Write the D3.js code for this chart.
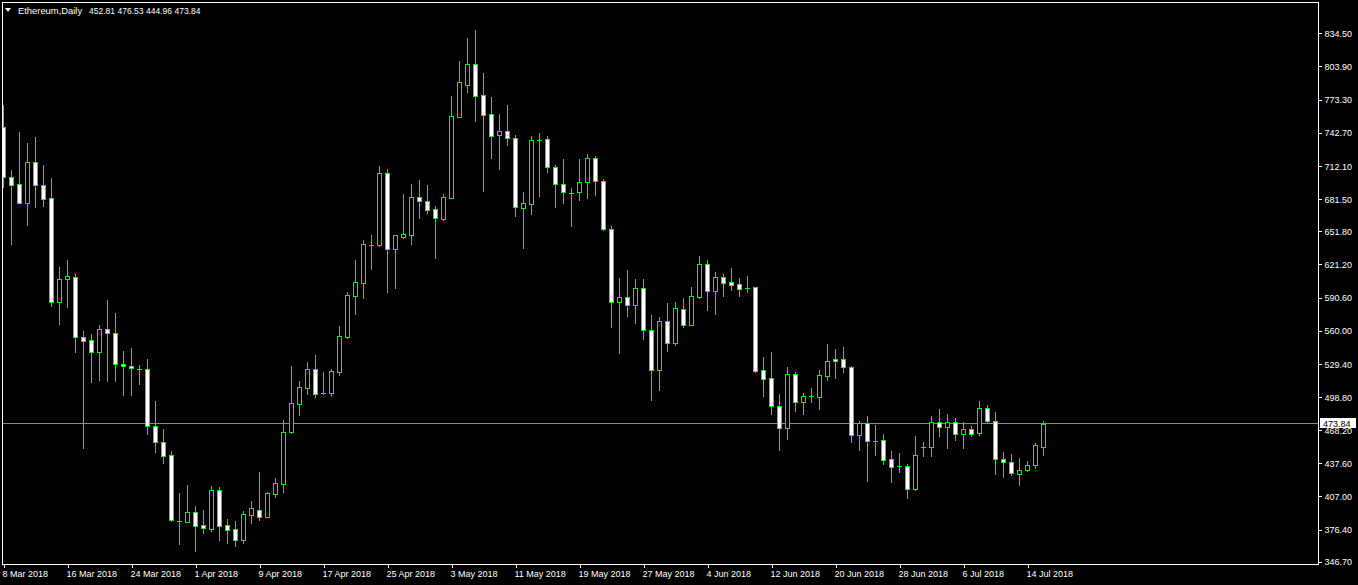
<!DOCTYPE html>
<html><head><meta charset="utf-8">
<script src="https://cdn.jsdelivr.net/npm/d3@7"></script>
<style>html,body{margin:0;padding:0;background:#000;}svg{display:block;}</style>
</head><body>
<script>
// ---- data (Ethereum daily, 8 Mar 2018 .. 16 Jul 2018) ----
const startDay = "2018-03-08";
const openVals = [747.7,701.6,695.1,678.1,715.4,694.2,682.2,586.7,607.4,609.2,553.9,551.1,540.0,561.2,557.5,528.9,527.1,525.0,524.3,472.2,457.5,444.9,384.6,383.6,392.3,380.3,377.1,412.6,380.3,376.6,367.0,390.1,394.1,388.2,409.5,418.7,466.2,492.5,507.3,524.3,502.4,502.7,522.1,554.4,592.2,604.3,639.3,638.8,705.3,635.6,646.7,648.6,683.1,679.4,672.0,663.3,682.7,757.5,787.0,805.9,777.3,759.7,740.3,744.0,737.6,672.9,676.6,736.3,736.6,710.8,695.1,687.3,687.7,696.9,719.1,697.9,653.6,586.2,590.8,583.4,599.1,560.3,523.9,568.6,548.9,579.7,565.5,591.1,621.2,596.9,609.2,604.6,602.8,599.4,600.0,523.4,516.0,490.1,470.4,519.7,494.4,499.4,499.0,518.4,533.5,533.5,526.2,463.4,474.5,458.4,458.8,441.2,434.8,434.8,413.5,452.3,452.3,475.4,470.8,475.4,464.3,468.9,465.2,488.3,476.3,441.2,438.5,427.4,431.1,435.7,452.81];
const highVals = [768.3,708.3,743.4,733.2,738.8,712.9,700.9,618.8,625.2,612.3,559.7,556.6,564.9,588.3,576.0,541.2,544.0,528.0,534.1,494.8,469.2,448.9,410.1,417.5,398.1,394.4,416.6,415.6,386.1,384.3,393.5,402.7,429.5,410.9,424.0,477.5,527.4,513.5,531.0,537.5,521.5,524.6,564.3,595.4,625.2,643.7,648.3,712.0,709.2,648.0,686.1,695.4,699.1,694.5,675.1,686.1,776.6,808.9,830.2,837.5,797.8,775.7,760.0,768.3,740.6,688.0,739.7,742.5,739.7,712.6,718.5,691.4,718.5,722.8,720.9,699.7,656.3,608.6,616.0,607.7,607.7,574.4,572.3,585.5,586.4,590.1,600.3,628.9,625.2,614.1,612.6,618.0,608.6,610.4,600.0,535.7,540.3,501.5,526.4,521.8,502.4,507.0,523.7,547.7,543.0,544.9,527.4,476.6,481.2,472.9,464.6,448.9,447.0,436.6,462.7,457.2,481.2,487.4,483.0,479.3,475.4,471.7,494.8,491.4,484.9,448.0,446.1,442.4,439.6,455.9,476.53];
const lowVals = [692.9,640.0,677.5,657.8,674.4,675.3,583.0,566.4,582.1,540.6,451.4,512.9,514.7,513.8,513.8,500.9,500.9,511.0,464.9,448.2,438.1,384.5,363.0,383.3,356.8,373.5,375.0,366.7,363.9,361.5,364.2,382.7,385.2,388.0,406.7,410.9,465.8,482.4,501.8,499.0,501.2,500.9,519.3,553.5,575.6,590.4,617.2,638.3,595.9,599.6,645.8,640.3,664.3,668.6,627.3,662.1,682.3,757.0,780.6,753.8,689.2,719.7,709.5,731.7,666.1,636.6,668.0,684.6,706.7,674.4,678.1,656.9,680.9,682.7,685.5,653.0,563.6,539.6,573.8,567.3,552.6,496.2,505.5,541.5,547.0,563.6,565.0,590.4,579.3,575.6,592.2,597.8,592.2,596.0,522.1,499.9,483.3,450.1,460.0,486.1,483.3,494.4,487.9,514.7,516.5,521.5,457.5,450.1,421.5,445.5,437.2,420.5,429.8,405.8,413.0,444.5,444.5,463.0,452.0,459.3,452.0,462.5,463.4,474.5,427.4,425.2,426.5,417.8,430.1,432.9,444.96];
const closeVals = [701.6,694.2,678.1,715.4,694.2,681.8,586.7,607.4,610.2,553.9,550.2,540.0,561.2,557.5,528.9,527.1,525.2,525.0,472.2,457.5,444.5,384.9,384.6,392.3,379.9,377.5,412.6,379.9,376.2,367.0,390.7,396.0,388.2,409.8,419.1,466.2,492.9,507.7,524.3,501.8,502.4,522.5,554.8,592.6,604.6,639.7,639.3,705.3,635.6,648.0,648.9,683.1,679.4,671.7,663.7,683.1,757.9,789.3,805.9,776.9,759.4,740.0,744.0,737.6,673.9,677.6,735.7,736.3,710.8,695.1,687.7,687.3,696.9,719.1,697.9,653.6,586.2,590.8,583.4,599.1,560.3,523.9,568.6,548.9,580.6,565.5,591.7,621.2,596.9,609.2,604.3,602.4,598.7,599.4,523.0,515.6,490.7,470.4,519.7,494.4,499.4,499.4,518.8,531.7,531.7,526.2,463.4,474.5,457.8,458.4,440.9,434.4,434.8,413.5,444.9,452.3,475.4,470.8,475.4,464.3,468.9,464.3,488.3,476.3,441.2,438.5,428.3,431.1,435.7,454.1,473.84];
const yTickVals = [834.50,803.90,773.30,742.70,712.10,681.50,651.80,621.20,590.60,560.00,529.40,498.80,468.20,437.60,407.00,376.40,346.70];
const xTickLabels = ["8 Mar 2018","16 Mar 2018","24 Mar 2018","1 Apr 2018","9 Apr 2018","17 Apr 2018","25 Apr 2018","3 May 2018","11 May 2018","19 May 2018","27 May 2018","4 Jun 2018","12 Jun 2018","20 Jun 2018","28 Jun 2018","6 Jul 2018","14 Jul 2018"];
const titleText = "Ethereum,Daily";
const lastPrice = 473.84;

(function () {
const W = 1358, H = 585;
const GREEN = "#00ff00";
const FONT = "'Liberation Sans', Arial, sans-serif";
const start = d3.utcParse("%Y-%m-%d")(startDay);
const candles = openVals.map((o, i) => ({
  date: d3.utcDay.offset(start, i), o, h: highVals[i], l: lowVals[i], c: closeVals[i]
}));

const pL = 2, pR = 1318, pT = 2, pB = 564;

const x = d3.scaleUtc()
  .domain([candles[0].date, candles[candles.length - 1].date])
  .range([3, 3 + 8 * (candles.length - 1)]);
const y = d3.scaleLinear().domain([346.7, 834.5]).range([561.7, 33.3]);

const svg = d3.select("body").append("svg")
  .attr("width", W).attr("height", H)
  .style("background", "#000")
  .style("font-family", FONT);

svg.append("defs").append("clipPath").attr("id", "plot")
  .append("rect").attr("x", pL + 1).attr("y", pT + 1)
  .attr("width", pR - pL - 1).attr("height", pB - pT - 1);

const plot = svg.append("g").attr("clip-path", "url(#plot)")
  .attr("shape-rendering", "crispEdges");

// price line
const py = Math.round(y(lastPrice)) - 0.5;
plot.append("line").attr("x1", pL).attr("x2", pR)
  .attr("y1", py).attr("y2", py)
  .attr("stroke", "#8c8c8c").attr("stroke-width", 1);

const g = plot.selectAll("g.candle").data(candles).join("g").attr("class", "candle");
g.each(function(d) {
  const sel = d3.select(this);
  const cx = Math.round(x(d.date));
  const yh = Math.round(y(d.h)), yl = Math.round(y(d.l));
  const yt = Math.round(y(Math.max(d.o, d.c))), yb = Math.round(y(Math.min(d.o, d.c)));
  sel.append("rect").attr("x", cx).attr("y", yh).attr("width", 1)
    .attr("height", Math.max(1, yl - yh + 1)).attr("fill", GREEN);
  const bh = yb - yt + 1;
  sel.append("rect").attr("x", cx - 2).attr("y", yt).attr("width", 5)
    .attr("height", bh).attr("fill", GREEN);
  if (bh > 2) {
    sel.append("rect").attr("x", cx - 1).attr("y", yt + 1).attr("width", 3)
      .attr("height", bh - 2).attr("fill", d.c >= d.o ? "#000" : "#fff");
  }
});

// frame
svg.append("rect").attr("x", pL + 0.5).attr("y", pT + 0.5)
  .attr("width", pR - pL).attr("height", pB - pT)
  .attr("fill", "none").attr("stroke", "#fff").attr("stroke-width", 1);

// y axis
const yAxis = svg.append("g").attr("transform", `translate(${pR + 0.5},0)`)
  .call(d3.axisRight(y).tickValues(yTickVals).tickSize(3).tickPadding(3)
    .tickFormat(d3.format(".2f")));
yAxis.select(".domain").remove();
yAxis.selectAll("line").attr("stroke", "#fff").attr("shape-rendering", "crispEdges");
yAxis.selectAll("text").attr("fill", "#fff").attr("font-size", 9)
  .attr("font-family", FONT).attr("dy", "0.36em");

// x axis
const parseTick = d3.utcParse("%d %b %Y");
const xTickDates = xTickLabels.map(s => parseTick(s));
const xAxis = svg.append("g").attr("transform", `translate(0,${pB + 0.5})`)
  .call(d3.axisBottom(x).tickValues(xTickDates).tickSize(3)
    .tickFormat((d, i) => xTickLabels[i]));
xAxis.select(".domain").remove();
xAxis.selectAll(".tick line").attr("stroke", "#fff").attr("transform", "translate(0.5,0)")
  .attr("shape-rendering", "crispEdges");
xAxis.selectAll("text").attr("fill", "#fff").attr("font-size", 9)
  .attr("font-family", FONT).attr("text-anchor", "start")
  .attr("x", -1).attr("y", 12.5).attr("dy", null);

// last price label
const lb = svg.append("g");
lb.append("rect").attr("x", 1320).attr("y", py - 5.5).attr("width", 36).attr("height", 10)
  .attr("fill", "#fff").attr("shape-rendering", "crispEdges");
lb.append("text").attr("x", 1323).attr("y", py + 3.5).attr("fill", "#000")
  .attr("font-size", 9).text(d3.format(".2f")(lastPrice));

// header
svg.append("path").attr("d", "M5,8 L11,8 L8,12 Z").attr("fill", "#fff");
const last = candles[candles.length - 1];
const hdr = svg.append("text").attr("y", 14).attr("fill", "#fff").attr("font-size", 9.4);
hdr.append("tspan").attr("x", 18).text(titleText);
[last.o, last.h, last.l, last.c].forEach((v, i) => {
  hdr.append("tspan").attr("x", 89 + i * 28.5).attr("font-size", 8.5)
    .text(d3.format(".2f")(v));
});
})();
</script>
</body></html>
